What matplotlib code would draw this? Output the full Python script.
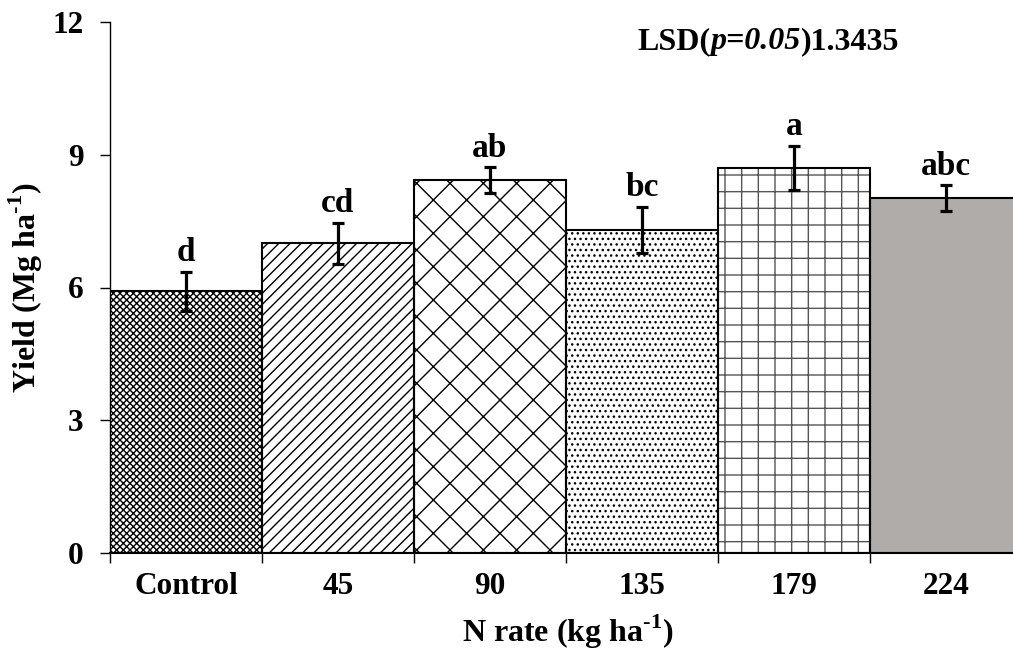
import numpy as np
import matplotlib
matplotlib.use("Agg")
import matplotlib.pyplot as plt

# data
rates = ["Control", "45", "90", "135", "179", "224"]
yield_mean = [5.92, 7.00, 8.43, 7.30, 8.70, 8.02]
yield_se = [0.44, 0.46, 0.29, 0.52, 0.50, 0.29]
letters = ["d", "cd", "ab", "bc", "a", "abc"]
hatches = ["xxxxx", "///", "x", "...", "+", None]
hatch_cols = ["black", "black", "black", "black", "#555555", "black"]
fills = ["white", "white", "white", "white", "white", "#b0aca9"]

plt.rcParams["font.family"] = "Liberation Serif"
plt.rcParams["font.weight"] = "bold"
plt.rcParams["mathtext.fontset"] = "custom"
plt.rcParams["mathtext.rm"] = "Liberation Serif:bold"
plt.rcParams["mathtext.bf"] = "Liberation Serif:bold"
plt.rcParams["hatch.linewidth"] = 1.0

fig = plt.figure(figsize=(10.13, 6.55), dpi=100)
ax = fig.add_axes([110/1013, 1 - 553/655, 1 - 110/1013, (553 - 22)/655])

x = np.arange(len(rates))
# fill + hatch first, outline on top
for xi, m, f, h, hc in zip(x, yield_mean, fills, hatches, hatch_cols):
    ax.bar(xi, m, width=1.0, align="edge", color=f, edgecolor=hc,
           linewidth=0, hatch=h, zorder=2)
ax.bar(x, yield_mean, width=1.0, align="edge", fill=False,
       edgecolor="black", linewidth=1.5, zorder=2.5)

ax.errorbar(x + 0.5, yield_mean, yerr=yield_se, fmt="none", ecolor="black",
            elinewidth=2.3, capsize=4.5, capthick=2.3, zorder=3)

for xi, m, s, lab in zip(x, yield_mean, yield_se, letters):
    ax.text(xi + 0.5, m + s + 0.08, lab, ha="center", va="bottom",
            fontsize=24, fontweight="bold")

ax.set_ylim(0, 12)
ax.set_xlim(0, 5.94)
ax.set_yticks([0, 3, 6, 9, 12])
ax.tick_params(axis="y", direction="out", length=7, width=1, labelsize=22.5, pad=12)

ax.set_xticks(np.arange(0, 6))
ax.set_xticklabels([])
ax.tick_params(axis="x", which="major", direction="out", length=7, width=1)
ax.set_xticks(x + 0.5, minor=True)
ax.set_xticklabels(rates, minor=True, fontsize=22.5, fontweight="bold")
ax.tick_params(axis="x", which="minor", length=0, pad=14)

for side in ["top", "right"]:
    ax.spines[side].set_visible(False)
ax.spines["left"].set_linewidth(1)
ax.spines["bottom"].set_linewidth(1.5)

ax.set_ylabel(r"Yield (Mg ha$^{\text{-1}}$)", fontsize=23, fontweight="bold")
ax.set_xlabel(r"N rate (kg ha$^{\text{-1}}$)", fontsize=23, fontweight="bold")
ax.yaxis.set_label_coords(-0.072, 0.50)
ax.xaxis.set_label_coords(0.507, -0.113)

# LSD note, p=0.05 in bold italic
t1 = ax.text(3.47, 11.55, "LSD(", fontsize=23, fontweight="bold", va="center")
t2 = ax.annotate("p=0.05", xy=(1, 0), xycoords=t1, va="bottom", ha="left",
                 fontsize=23, fontweight="bold", fontstyle="italic")
ax.annotate(")1.3435", xy=(1, 0), xycoords=t2, va="bottom", ha="left",
            fontsize=23, fontweight="bold")

fig.savefig("out.png", dpi=100)
